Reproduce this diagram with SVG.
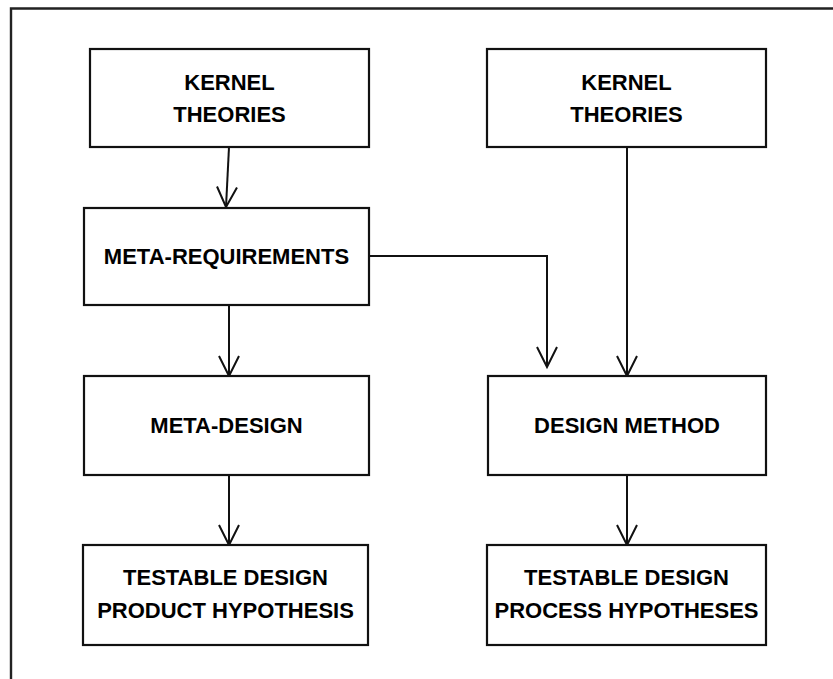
<svg xmlns="http://www.w3.org/2000/svg" width="833" height="679" viewBox="0 0 833 679">
  <style>
    .box { fill: #ffffff; stroke: #111111; stroke-width: 2.2; }
    .frame { fill: none; stroke: #222222; stroke-width: 2.4; }
    .link { fill: none; stroke: #111111; stroke-width: 2; }
    .label { font-family: "Liberation Sans", Arial, sans-serif; font-weight: bold; font-size: 22px; fill: #000000; text-anchor: middle; }
  </style>
  <defs>
    <marker id="arrow" markerUnits="userSpaceOnUse" markerWidth="24" markerHeight="24" viewBox="-22 -12 24 24" refX="0" refY="0" orient="auto" overflow="visible">
      <path d="M-20,-10 L0,0 L-20,10" fill="none" stroke="#111111" stroke-width="2"/>
    </marker>
  </defs>

  <rect width="833" height="679" fill="#ffffff"/>

  <!-- outer frame, open to the right and bottom -->
  <path class="frame" d="M11,690 L11,8.5 L840,8.5"/>

  <g id="connectors">
    <path class="link" marker-end="url(#arrow)" d="M229,147 L226,207"/>
    <path class="link" marker-end="url(#arrow)" d="M229,305 L229,376"/>
    <path class="link" marker-end="url(#arrow)" d="M229,475 L229,545"/>
    <path class="link" marker-end="url(#arrow)" d="M369,256 L547,256 L547,367"/>
    <path class="link" marker-end="url(#arrow)" d="M627,147 L627,376"/>
    <path class="link" marker-end="url(#arrow)" d="M627,475 L627,545"/>
  </g>

  <g id="kernel-left">
    <rect class="box" x="90" y="49" width="279" height="98"/>
    <text class="label" x="229.5" y="90">KERNEL</text>
    <text class="label" x="229.5" y="122">THEORIES</text>
  </g>

  <g id="kernel-right">
    <rect class="box" x="487" y="49" width="279" height="98"/>
    <text class="label" x="626.5" y="90">KERNEL</text>
    <text class="label" x="626.5" y="122">THEORIES</text>
  </g>

  <g id="meta-requirements">
    <rect class="box" x="84" y="208" width="285" height="97"/>
    <text class="label" x="226.5" y="264">META-REQUIREMENTS</text>
  </g>

  <g id="meta-design">
    <rect class="box" x="84" y="376" width="285" height="99"/>
    <text class="label" x="226.5" y="433">META-DESIGN</text>
  </g>

  <g id="design-method">
    <rect class="box" x="488" y="376" width="278" height="99"/>
    <text class="label" x="627" y="433">DESIGN METHOD</text>
  </g>

  <g id="product-hypothesis">
    <rect class="box" x="83" y="545" width="285" height="100"/>
    <text class="label" x="225.5" y="585">TESTABLE DESIGN</text>
    <text class="label" x="225.5" y="618">PRODUCT HYPOTHESIS</text>
  </g>

  <g id="process-hypotheses">
    <rect class="box" x="487" y="545" width="279" height="100"/>
    <text class="label" x="626.5" y="585">TESTABLE DESIGN</text>
    <text class="label" x="626.5" y="618">PROCESS HYPOTHESES</text>
  </g>
</svg>
